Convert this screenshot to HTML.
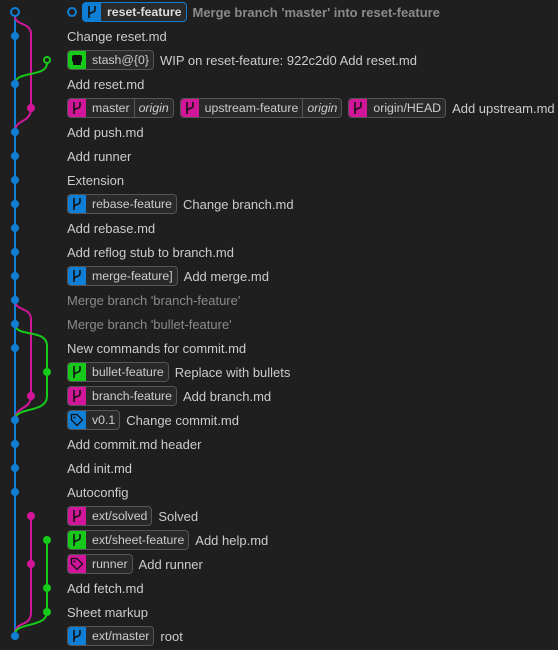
<!DOCTYPE html>
<html><head><meta charset="utf-8"><style>
html,body{margin:0;padding:0;background:#1f1f1f;width:558px;height:650px;overflow:hidden}
body{position:relative;font-family:"Liberation Sans",sans-serif;font-size:13px;color:#cccccc}
svg.g{position:absolute;left:0;top:0}
.r{position:absolute;left:67px;height:24px;display:flex;align-items:center;white-space:nowrap}
.b{display:inline-flex;height:18px;border:1px solid #555;border-radius:4px;background:#2a2a2a;overflow:hidden;margin-right:6px;align-items:stretch;font-size:12.3px}
.b .i{width:18px;display:flex;align-items:center;justify-content:center}
.b .t{padding:0 4px 0 6px;line-height:18px;color:#cccccc}
.b .o{padding:0 4px;line-height:18px;border-left:1px solid #555;font-style:italic;color:#cccccc}
.bl .i{background:#0f7fd6}.mg .i{background:#d1169a}.gr .i{background:#16c91a}
.dim{color:#8a8a8a}
</style></head><body>
<svg class="g" width="60" height="650" fill="none" stroke-width="2">
<path d="M15,16 L15,636" stroke="#0f7fd6"/>
<path d="M15,16 C15,26 31,22 31,34 L31,108 C31,124 15,118 15,132" stroke="#d1169a"/>
<path d="M47,63 C47,78 15,70 15,84" stroke="#16c91a"/>
<path d="M15,300 C15,312 31,306 31,320 L31,396 C31,410 15,406 15,420" stroke="#d1169a"/>
<path d="M15,324 C15,338 47,328 47,346 L47,396 C47,414 15,406 15,420" stroke="#16c91a"/>
<path d="M31,516 L31,612 C31,628 15,620 15,634" stroke="#d1169a"/>
<path d="M47,540 L47,612 C47,628 15,622 15,634" stroke="#16c91a"/>
<circle cx="15" cy="12" r="4" stroke="#0f7fd6" fill="#1f1f1f"/>
<circle cx="47" cy="60" r="3" stroke="#16c91a" fill="#1f1f1f"/>
<g fill="#0f7fd6">
<circle cx="15" cy="36" r="4"/><circle cx="15" cy="84" r="4"/><circle cx="15" cy="132" r="4"/><circle cx="15" cy="156" r="4"/><circle cx="15" cy="180" r="4"/><circle cx="15" cy="204" r="4"/><circle cx="15" cy="228" r="4"/><circle cx="15" cy="252" r="4"/><circle cx="15" cy="276" r="4"/><circle cx="15" cy="300" r="4"/><circle cx="15" cy="324" r="4"/><circle cx="15" cy="348" r="4"/><circle cx="15" cy="420" r="4"/><circle cx="15" cy="444" r="4"/><circle cx="15" cy="468" r="4"/><circle cx="15" cy="492" r="4"/><circle cx="15" cy="636" r="4"/>
</g>
<g fill="#d1169a"><circle cx="31" cy="108" r="4"/><circle cx="31" cy="396" r="4"/><circle cx="31" cy="516" r="4"/><circle cx="31" cy="564" r="4"/></g>
<g fill="#16c91a"><circle cx="47" cy="372" r="4"/><circle cx="47" cy="540" r="4"/><circle cx="47" cy="588" r="4"/><circle cx="47" cy="612" r="4"/></g>
</svg>
<svg width="0" height="0" style="position:absolute"><defs>
<symbol id="br" viewBox="0 0 12 14"><path d="M3,1 L3,13 M9,1 L9,5 C9,8 3,7 3,10" stroke="#111" stroke-width="1.6" fill="none"/></symbol>
<symbol id="tg" viewBox="0 0 14 14"><path d="M1.5,1.5 L7,1.5 L12.5,7 L7,12.5 L1.5,7 Z" stroke="#111" stroke-width="1.3" fill="none"/><circle cx="4.5" cy="4.5" r="1" fill="#111"/></symbol>
</defs></svg>
<div class="r" style="top:0;left:67px"><svg width="10" height="10" style="margin:0 5px 0 0"><circle cx="5" cy="5" r="4" stroke="#0f7fd6" stroke-width="2" fill="none"/></svg><span class="b bl" style="border-color:#0f7fd6"><span class="i"><svg width="12" height="14"><use href="#br"/></svg></span><span class="t" style="font-weight:bold;color:#ddd">reset-feature</span></span><b class="dim">Merge branch 'master' into reset-feature</b></div>
<div class="r" style="top:24px">Change reset.md</div>
<div class="r" style="top:48px"><span class="b gr"><span class="i"><svg width="12" height="12"><rect x="1" y="1" width="10" height="7" rx="2" fill="#111"/><rect x="2" y="8" width="8" height="3" fill="#111"/></svg></span><span class="t">stash@{0}</span></span>WIP on reset-feature: 922c2d0 Add reset.md</div>
<div class="r" style="top:72px">Add reset.md</div>
<div class="r" style="top:96px"><span class="b mg"><span class="i"><svg width="12" height="14"><use href="#br"/></svg></span><span class="t">master</span><span class="o">origin</span></span><span class="b mg"><span class="i"><svg width="12" height="14"><use href="#br"/></svg></span><span class="t">upstream-feature</span><span class="o">origin</span></span><span class="b mg"><span class="i"><svg width="12" height="14"><use href="#br"/></svg></span><span class="t">origin/HEAD</span></span>Add upstream.md</div>
<div class="r" style="top:120px">Add push.md</div>
<div class="r" style="top:144px">Add runner</div>
<div class="r" style="top:168px">Extension</div>
<div class="r" style="top:192px"><span class="b bl"><span class="i"><svg width="12" height="14"><use href="#br"/></svg></span><span class="t">rebase-feature</span></span>Change branch.md</div>
<div class="r" style="top:216px">Add rebase.md</div>
<div class="r" style="top:240px">Add reflog stub to branch.md</div>
<div class="r" style="top:264px"><span class="b bl"><span class="i"><svg width="12" height="14"><use href="#br"/></svg></span><span class="t">merge-feature]</span></span>Add merge.md</div>
<div class="r dim" style="top:288px">Merge branch 'branch-feature'</div>
<div class="r dim" style="top:312px">Merge branch 'bullet-feature'</div>
<div class="r" style="top:336px">New commands for commit.md</div>
<div class="r" style="top:360px"><span class="b gr"><span class="i"><svg width="12" height="14"><use href="#br"/></svg></span><span class="t">bullet-feature</span></span>Replace with bullets</div>
<div class="r" style="top:384px"><span class="b mg"><span class="i"><svg width="12" height="14"><use href="#br"/></svg></span><span class="t">branch-feature</span></span>Add branch.md</div>
<div class="r" style="top:408px"><span class="b bl"><span class="i"><svg width="14" height="14"><use href="#tg"/></svg></span><span class="t">v0.1</span></span>Change commit.md</div>
<div class="r" style="top:432px">Add commit.md header</div>
<div class="r" style="top:456px">Add init.md</div>
<div class="r" style="top:480px">Autoconfig</div>
<div class="r" style="top:504px"><span class="b mg"><span class="i"><svg width="12" height="14"><use href="#br"/></svg></span><span class="t">ext/solved</span></span>Solved</div>
<div class="r" style="top:528px"><span class="b gr"><span class="i"><svg width="12" height="14"><use href="#br"/></svg></span><span class="t">ext/sheet-feature</span></span>Add help.md</div>
<div class="r" style="top:552px"><span class="b mg"><span class="i"><svg width="14" height="14"><use href="#tg"/></svg></span><span class="t">runner</span></span>Add runner</div>
<div class="r" style="top:576px">Add fetch.md</div>
<div class="r" style="top:600px">Sheet markup</div>
<div class="r" style="top:624px"><span class="b bl"><span class="i"><svg width="12" height="14"><use href="#br"/></svg></span><span class="t">ext/master</span></span>root</div>
</body></html>
